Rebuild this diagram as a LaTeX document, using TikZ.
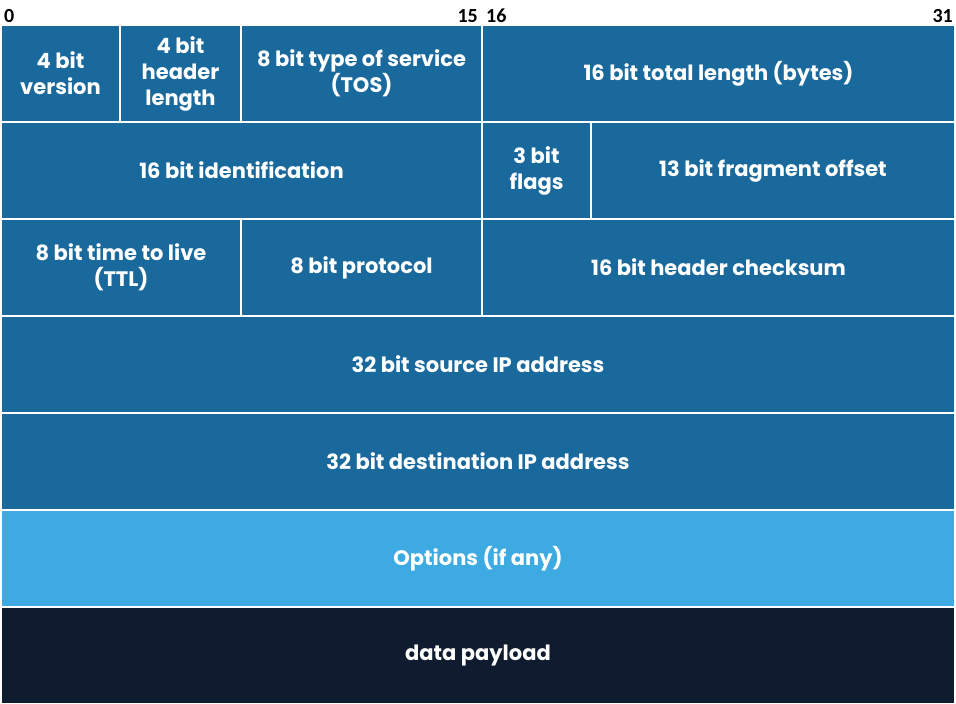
\documentclass[tikz,border=0pt]{standalone}
\usepackage{fontspec}
\newfontfamily\cellfont{Poppins}
\newfontfamily\numfont{Carlito}
\definecolor{hdrblue}{HTML}{1A699D}
\definecolor{optblue}{HTML}{3DABE2}
\definecolor{navy}{HTML}{0F1B2E}
\begin{document}
\begin{tikzpicture}[x=1pt,y=-1pt,
  cell/.style={draw=white,line width=1.5pt,fill=hdrblue,text=white,inner sep=0pt,outer sep=0pt,
    font=\cellfont\bfseries\fontsize{21}{26}\selectfont,align=center},
  num/.style={font=\numfont\bfseries\fontsize{20}{20}\selectfont,text=black,inner sep=0pt}]
\useasboundingbox (0,0) rectangle (956,704);
% row 1
\node[cell,minimum width=119pt,minimum height=97pt] (ver) at (60.5,73.5) {4 bit\\version};
\node[cell,minimum width=121pt,minimum height=97pt] (hl) at (180.5,73.5) {4 bit\\header\\length};
\node[cell,minimum width=241pt,minimum height=97pt] (tos) at (361.5,73.5) {8 bit type of service\\(TOS)};
\node[cell,minimum width=473pt,minimum height=97pt] (tl) at (718.5,73.5) {16 bit total length (bytes)};
% row 2
\node[cell,minimum width=481pt,minimum height=97pt] (id) at (241.5,170.5) {16 bit identification};
\node[cell,minimum width=109pt,minimum height=97pt] (fl) at (536.5,170.5) {3 bit\\flags};
\node[cell,minimum width=364pt,minimum height=97pt] (fo) at (773,170.5) {13 bit fragment offset};
% row 3
\node[cell,minimum width=240pt,minimum height=97pt] (ttl) at (121,267.5) {8 bit time to live\\(TTL)};
\node[cell,minimum width=241pt,minimum height=97pt] (pr) at (361.5,267.5) {8 bit protocol};
\node[cell,minimum width=473pt,minimum height=97pt] (cs) at (718.5,267.5) {16 bit header checksum};
% rows 4-7
\node[cell,minimum width=954pt,minimum height=97pt] (src) at (478,364.5) {32 bit source IP address};
\node[cell,minimum width=954pt,minimum height=97pt] (dst) at (478,461.5) {32 bit destination IP address};
\node[cell,fill=optblue,minimum width=954pt,minimum height=97pt] (opt) at (478,558.5) {Options (if any)};
\node[cell,fill=navy,minimum width=954pt,minimum height=97pt] (data) at (478,655.5) {data payload};
% bit numbers
\node[num,anchor=base west] (n0) at (4,22) {0};
\node[num,anchor=base east] (n15) at (478,22) {15};
\node[num,anchor=base west] (n16) at (486,22) {16};
\node[num,anchor=base east] (n31) at (953,22) {31};
\end{tikzpicture}
\end{document}
